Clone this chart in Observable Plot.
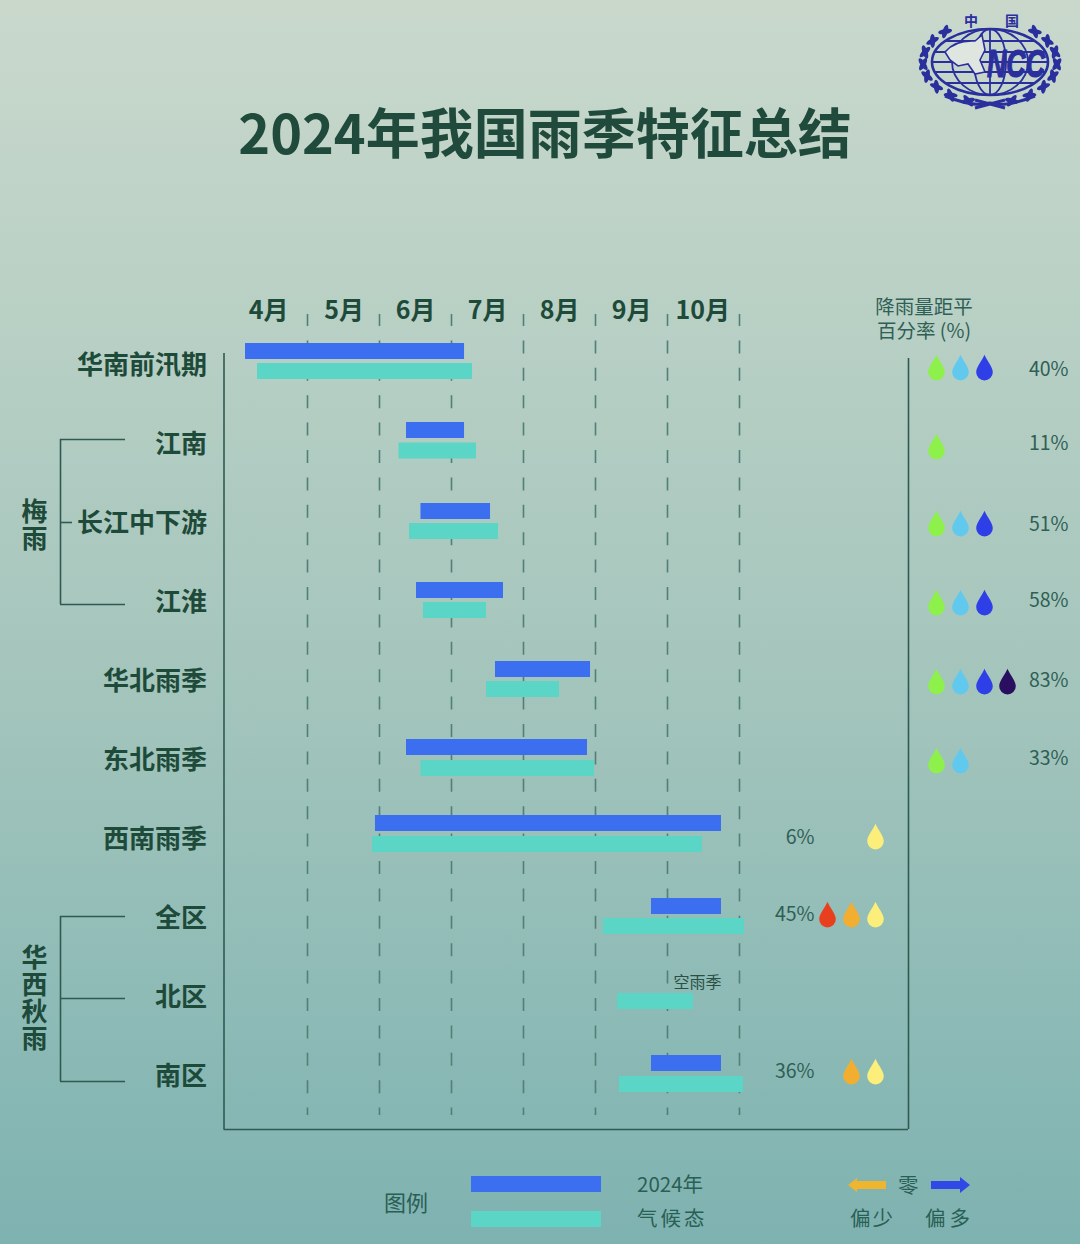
<!DOCTYPE html>
<html lang="zh">
<head>
<meta charset="utf-8">
<script src="https://cdn.jsdelivr.net/npm/d3@7"></script>
<script src="https://cdn.jsdelivr.net/npm/@observablehq/plot@0.6"></script>
<style>
html,body{margin:0;padding:0;overflow:hidden}
body{width:1080px;height:1244px;position:relative;font-family:"Noto Sans CJK SC","Noto Sans",sans-serif;
background:linear-gradient(180deg,#cad8cc 0%,#b9d0c5 25%,#a4c5bc 55%,#8ab9b5 85%,#7eb2b0 100%);color:#2a5f55}
#head{position:relative;height:285px}
#head h1{position:absolute;left:0;top:93px;width:1090px;margin:0;text-align:center;font-size:54px;line-height:76px;font-weight:700;color:#1f4a3c}
#logo{position:absolute;left:900px;top:0}
#chart svg{display:block}
#foot{position:relative;height:99px}
#foot div{position:absolute;white-space:nowrap}
.t{font-size:20.5px;line-height:28px;color:#2a5f55}
.vert text{writing-mode:vertical-rl;text-orientation:upright;letter-spacing:1px}
</style>
</head>
<body>
<div id="head"><h1>2024年我国雨季特征总结</h1><svg id="logo" width="180" height="120" viewBox="900 0 180 120"></svg></div>
<div id="chart"></div>
<div id="foot">
  <div class="t" style="left:384px;top:42px;font-size:22px">图例</div>
  <div style="left:471px;top:31px;width:130px;height:16px;background:#3b6ff0"></div>
  <div style="left:471px;top:66px;width:130px;height:16px;background:#5bd5c5"></div>
  <div class="t" style="left:637px;top:24px">2024年</div>
  <div class="t" style="left:637px;top:58px;letter-spacing:3px">气候态</div>
  <div style="left:846px;top:30px"><svg width="42" height="20"><path d="M2 10 L11 3 V6 H40 V14 H11 V17 Z" fill="#f0b52e"/></svg></div>
  <div class="t" style="left:898px;top:25px">零</div>
  <div style="left:930px;top:30px"><svg width="42" height="20"><path d="M40 10 L30 2 V6 H1 V14 H30 V18 Z" fill="#2f48e6"/></svg></div>
  <div class="t" style="left:850px;top:58px;letter-spacing:2px">偏少</div>
  <div class="t" style="left:925px;top:58px;letter-spacing:4px">偏多</div>
</div>
<script>
// ---- data (positions in month units: 6.5 = middle of June) ----
const regions = ["华南前汛期","江南","长江中下游","江淮","华北雨季","东北雨季","西南雨季","全区","北区","南区"];
const start2024 = [4.139,6.375,6.576,6.514,7.611,6.375,5.944,9.778,null,9.778];
const end2024   = [7.181,7.181,7.542,7.722,8.931,8.889,10.75,10.75,null,10.75];
const startClimate = [4.306,6.271,6.417,6.611,7.486,6.576,5.903,9.111,9.306,9.333];
const endClimate   = [7.292,7.347,7.653,7.486,8.5,8.986,10.486,11.069,10.361,11.056];
const rainPercent = [40,11,51,58,83,33,6,45,null,36];
const dropCount   = [3,1,3,3,4,2,1,3,0,2];
const direction   = [1,1,1,1,1,1,-1,-1,0,-1];
const monthLabels = ["4月","5月","6月","7月","8月","9月","10月"];
const monthStarts = [4,5,6,7,8,9,10];
const gridMonths  = [5,6,7,8,9,10,11];
const wetColors = ["#8ef04a","#62c9ee","#2f3fe8","#2a0f60"];
const dryColors = ["#fbee7a","#f2ae30","#e8401f"];

// ---- layout ----
const rowH = 79, monthW = 72;
const mx = p => 4 + (p - 235) / monthW;   // page x -> month axis
const ry = p => (p - 365) / rowH;         // page y -> row axis
const barH = 16;
const nudge2024 = [-14,-14,-12,-12,-12,-13,-16,-12,0,-13];
const nudgeClim = [6,6.5,8,8,8,8,5,8,4,8];
const nudgeDrop = [3,3,1,1,1,1,-2,-3,0,-4];
const nudgePct  = [4,-1,1,-2,-1,-2,-2,-4,0,-5];
const rows = regions.map((name,i)=>({name,i,s:start2024[i],e:end2024[i],cs:startClimate[i],ce:endClimate[i],
  pct:rainPercent[i],n:dropCount[i],dir:direction[i]}));
const wetX = [936,960,984,1007].map(mx), dryX = [875,851,827].map(mx);
const drops = rows.flatMap(r=>d3.range(r.n).map(k=>({
  x:(r.dir>0?wetX:dryX)[k], y:r.i+nudgeDrop[r.i]/rowH, fill:(r.dir>0?wetColors:dryColors)[k]})));
const teardrop = {draw(c,size){const r=Math.sqrt(size/Math.PI);
  c.moveTo(0,-1.65*r);
  c.bezierCurveTo(0.25*r,-1.0*r,r,-0.2*r,r,0.45*r);
  c.arc(0,0.45*r,r,0,Math.PI);
  c.bezierCurveTo(-r,-0.2*r,-0.25*r,-1.0*r,0,-1.65*r);
  c.closePath();}};
const ink="#1e4a3a", lineInk="#2f5a50", soft="#2f5f55";
const cjk='"Noto Sans CJK SC"';
const bracket=(top,mid,bot,midEnd)=>[
  Plot.ruleX([mx(60)],{y1:()=>top,y2:()=>bot,stroke:lineInk,strokeWidth:1.6}),
  Plot.ruleY([top,bot],{x1:()=>mx(60),x2:()=>mx(125),stroke:lineInk,strokeWidth:1.6}),
  Plot.ruleY([mid],{x1:()=>mx(60),x2:()=>mx(midEnd),stroke:lineInk,strokeWidth:1.6})
];
const chart = Plot.plot({
  width:1080,height:860,margin:0,
  style:{background:"transparent",overflow:"visible",fontFamily:cjk},
  x:{domain:[4,11],range:[235,739],axis:null},
  y:{domain:[0,9],range:[80,791],axis:null},
  marks:[
    // dashed month grid
    Plot.ruleX(gridMonths,{y1:()=>ry(314),y2:()=>ry(1115),stroke:"#527f76",strokeWidth:1.6,strokeDasharray:"13 14.4",strokeDashoffset:1}),
    // frame
    Plot.ruleX([mx(223.5)],{y1:()=>ry(353),y2:()=>ry(1129),stroke:lineInk,strokeWidth:1.6}),
    Plot.ruleX([mx(908)],{y1:()=>ry(358),y2:()=>ry(1129),stroke:lineInk,strokeWidth:1.6}),
    Plot.ruleY([ry(1129)],{x1:()=>mx(223.5),x2:()=>mx(908),stroke:lineInk,strokeWidth:1.6}),
    ...bracket(ry(439),ry(522),ry(604),72),
    ...bracket(ry(916),ry(998),ry(1081),125),
    // bars
    Plot.rect(rows.filter(r=>r.s!=null),{x1:"s",x2:"e",
      y1:r=>r.i+(nudge2024[r.i]-barH/2)/rowH,y2:r=>r.i+(nudge2024[r.i]+barH/2)/rowH,fill:"#3b6ff0"}),
    Plot.rect(rows,{x1:"cs",x2:"ce",
      y1:r=>r.i+(nudgeClim[r.i]-barH/2)/rowH,y2:r=>r.i+(nudgeClim[r.i]+barH/2)/rowH,fill:"#5bd5c5"}),
    // month labels
    Plot.text(monthLabels,{x:(d,i)=>monthStarts[i]+[0.46,0.51,0.5,0.5,0.5,0.5,0.49][i],y:()=>ry(310),text:d=>d,fontSize:25,fontWeight:700,fill:ink,fontFamily:cjk}),
    // region labels
    Plot.text(rows,{x:()=>mx(206.5),y:"i",text:"name",textAnchor:"end",fontSize:26,fontWeight:700,fill:ink,fontFamily:cjk}),
    // group labels
    Plot.text(["梅雨"],{className:"vert",x:()=>mx(34),y:()=>ry(516),text:d=>d,fontSize:26,fontWeight:700,fill:ink,fontFamily:cjk}),
    Plot.text(["华西秋雨"],{className:"vert",x:()=>mx(34),y:()=>ry(989),text:d=>d,fontSize:26,fontWeight:700,fill:ink,fontFamily:cjk}),
    // rainfall header
    Plot.text(["降雨量距平\n百分率 (%)"],{x:()=>mx(923.5),y:()=>ry(318),text:d=>d,lineHeight:1.2,fontSize:19.5,fill:soft,fontFamily:cjk}),
    // percent labels
    Plot.text(rows.filter(r=>r.pct!=null),{x:r=>r.dir>0?mx(1068):mx(814),y:r=>r.i+nudgePct[r.i]/rowH,text:r=>r.pct+"%",
      textAnchor:"end",fontSize:19.5,fill:soft,fontFamily:cjk}),
    // drops
    Plot.dot(drops,{x:"x",y:"y",r:8.3,fill:"fill",symbol:teardrop,stroke:"none"}),
    // empty season note
    Plot.text(["空雨季"],{x:()=>mx(697),y:()=>ry(982.5),text:d=>d,fontSize:16,fill:"#2a4f45",fontFamily:cjk})
  ]
});
document.getElementById("chart").appendChild(chart);

// ---- logo ----
const logo=d3.select("#logo"), blue="#2a2f9e";
const g=logo.append("g").attr("fill","none").attr("stroke",blue).attr("stroke-width",1.8);
g.append("ellipse").attr("cx",990).attr("cy",62).attr("rx",58).attr("ry",33).attr("stroke-width",2.6);
[38,16].forEach(rx=>g.append("ellipse").attr("cx",990).attr("cy",62).attr("rx",rx).attr("ry",33));
[-21,-10,10,21].forEach(dy=>{const w=58*Math.sqrt(1-dy*dy/1089);
  g.append("line").attr("x1",990-w).attr("x2",990+w).attr("y1",62+dy).attr("y2",62+dy);});
g.append("line").attr("x1",932).attr("x2",1048).attr("y1",62).attr("y2",62);
g.append("line").attr("x1",990).attr("x2",990).attr("y1",29).attr("y2",95);
logo.append("path").attr("fill","#dfe6e0").attr("stroke",blue).attr("stroke-width",1.6)
  .attr("d","M945 52 Q955 40 975 41 L982 35 L985 50 L980 60 L985 72 L975 74 L968 64 L958 66 L950 60 Z");
logo.append("text").attr("x",1016).attr("y",77).attr("text-anchor","middle").attr("font-family","Liberation Sans")
  .attr("font-weight",700).attr("font-style","italic").attr("font-size",38).attr("textLength",58).attr("lengthAdjust","spacingAndGlyphs")
  .attr("fill",blue).attr("stroke",blue).attr("stroke-width",1.2).text("NCC");
[["中",971],["国",1012]].forEach(([t,x])=>logo.append("text").attr("x",x).attr("y",26).attr("text-anchor","middle")
  .attr("font-size",14).attr("font-family",cjk).attr("font-weight",700).attr("fill",blue).text(t));
// laurel: paired leaves following an arc around the globe
[1,-1].forEach(s=>d3.range(0,8).forEach(k=>{
  const deg=-48+k*17, a=deg*Math.PI/180;
  const x=990+s*67*Math.cos(a), y=62+41*Math.sin(a);
  [-32,32].forEach(sp=>{
    const rot=s*(deg+sp);
    logo.append("ellipse").attr("cx",x).attr("cy",y).attr("rx",2.6).attr("ry",7).attr("fill",blue)
      .attr("transform",`rotate(${rot} ${x} ${y})`);
  });
}));
logo.append("path").attr("fill","none").attr("stroke",blue).attr("stroke-width",3)
  .attr("d","M945 96 Q975 108 990 103 Q1005 108 1035 96 M975 108 L1005 100 M1005 108 L975 100");
</script>
</body>
</html>
